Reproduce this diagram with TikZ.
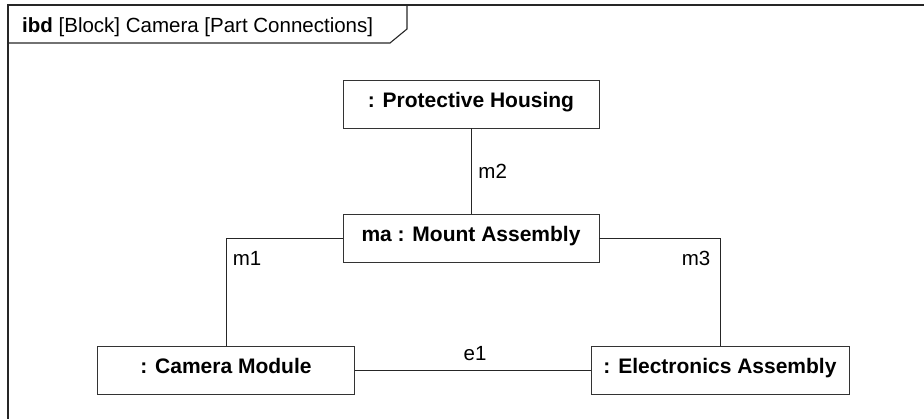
\documentclass[tikz,border=0pt]{standalone}
\usepackage{fontspec}
\setmainfont{Liberation Sans}
\begin{document}
\begin{tikzpicture}[
        x = 1pt, y = -1pt,
        part/.style = {draw = black!80, line width = 0.9pt, minimum width = 256pt,
                       minimum height = 48pt, inner sep = 0pt,
                       text height = 1.45ex, text depth = 0.3ex,
                       font = \fontsize{21}{24}\selectfont\bfseries},
        conn/.style = {draw = black!85, line width = 0.9pt},
        lbl/.style = {inner sep = 0pt, font = \fontsize{20.5}{24}\selectfont},
        frm/.style = {draw = black!85, line width = 1.1pt},
      ]
        \useasboundingbox (0,0) rectangle (924,418);
        % diagram frame and its name tab
        \draw[frm] (8,430) -- (8,5) -- (930,5);
        \draw[frm] (8,43) -- (390,43) -- (407,29) -- (407,5);
        \node[lbl, anchor = base west] (title) at (22,32)
          {\textbf{ibd} [Block] Camera [Part Connections]};
        % parts
        \node[part] (ph) at (471,104) {: Protective Housing};
        \node[part] (ma) at (471,238.5) {ma : Mount Assembly};
        \node[part, minimum width = 257pt] (cm) at (226,370) {: Camera Module};
        \node[part, minimum width = 258pt] (ea) at (720,370) {: Electronics Assembly};
        % connectors
        \draw[conn] (ph) -- (ma) node[lbl, pos = 0.5, right = 7pt] (m2) {m2};
        \draw[conn] (cm.north) |- (ma.west);
        \draw[conn] (ea.north) |- (ma.east);
        \draw[conn] (cm) -- (ea);
        \node[lbl] (m1) at (247,258) {m1};
        \node[lbl] (m3) at (696,258) {m3};
        \node[lbl] (e1) at (475,354) {e1};
      \end{tikzpicture}
\end{document}
